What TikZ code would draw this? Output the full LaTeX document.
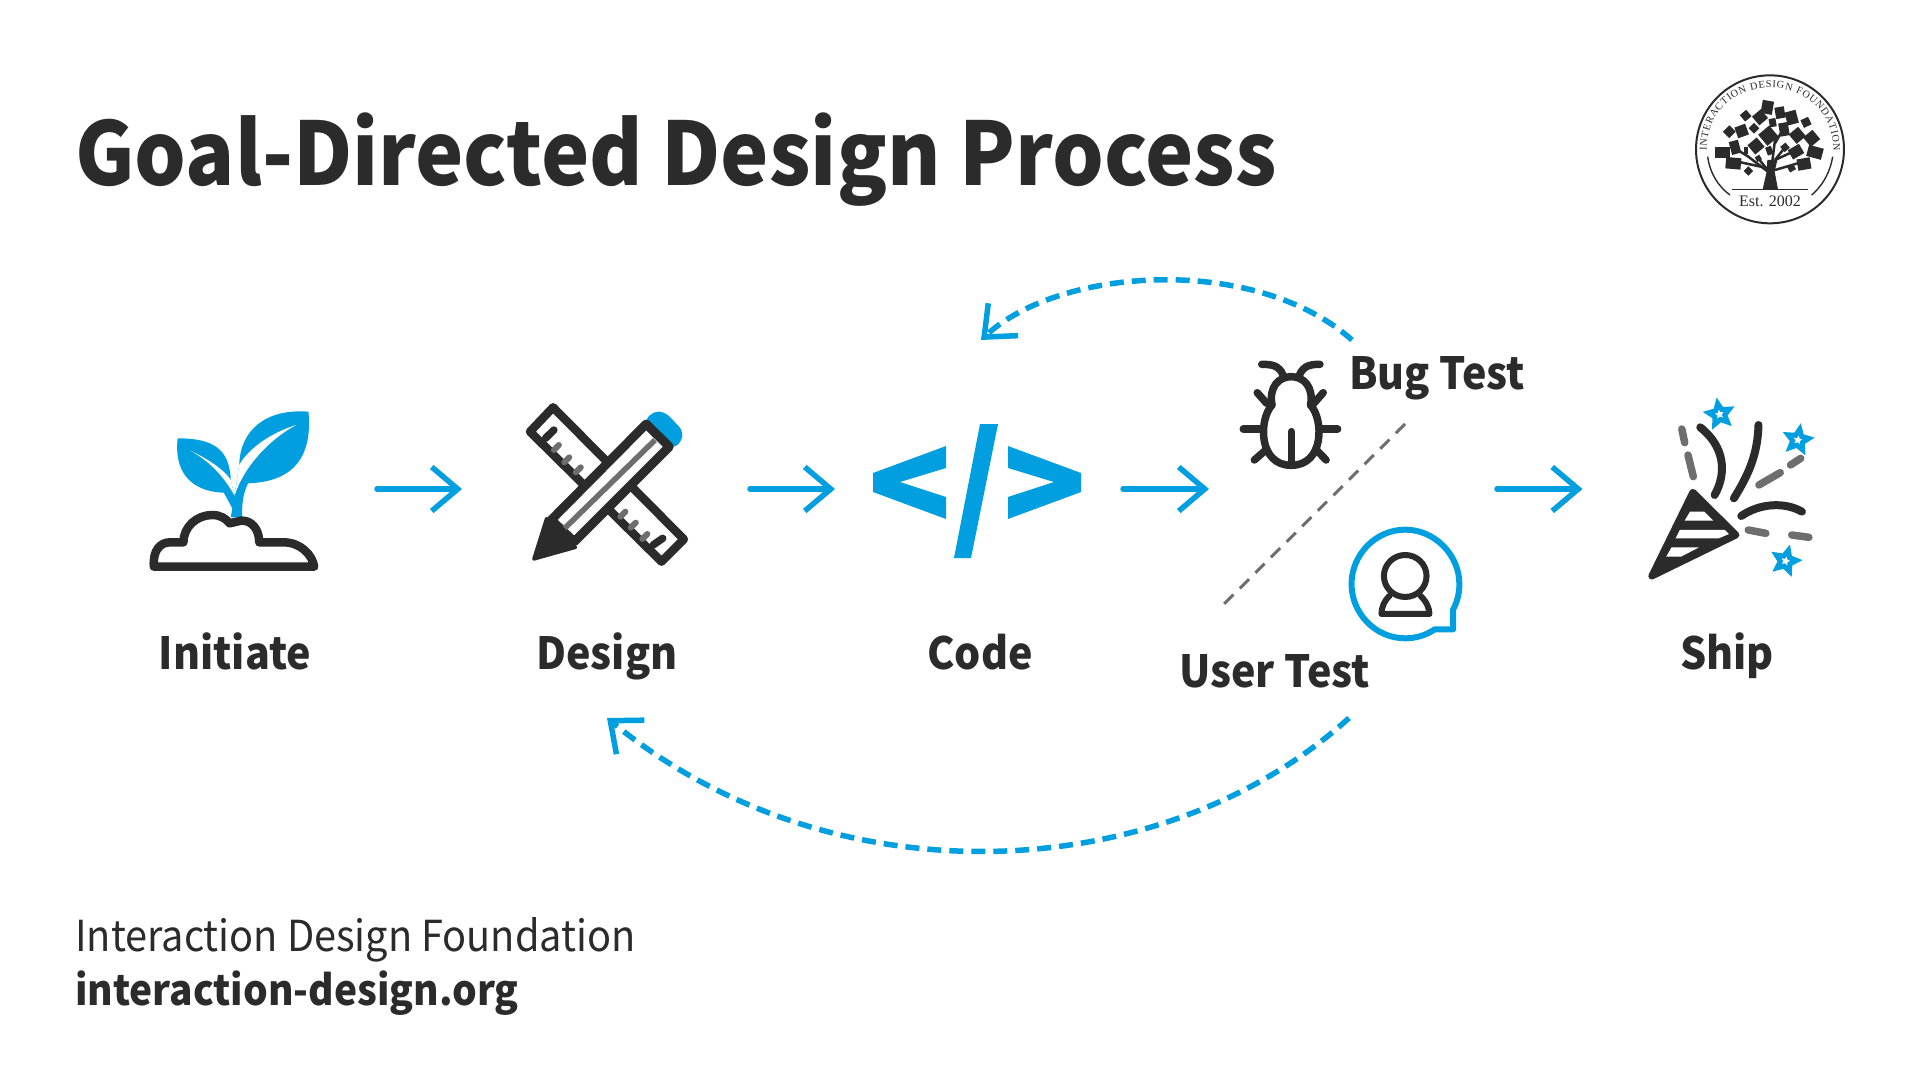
\documentclass[tikz,border=0pt]{standalone}
\usepackage{fontspec}
\setmainfont[FakeStretch=0.93]{Noto Sans CJK SC}
\newfontfamily\logofont{Liberation Serif}
\usetikzlibrary{arrows.meta,shapes.geometric,decorations.text}
\definecolor{idfblue}{HTML}{019FDF}
\definecolor{idfdark}{HTML}{2B2B2B}
\definecolor{idfgray}{HTML}{6E6E6E}
\tikzset{
    flow/.style={draw=idfblue,line width=5.5pt,line cap=round,-{Straight Barb[length=26pt,width=44pt]}},
    backflow/.style={draw=idfblue,line width=5.5pt,dash pattern=on 14pt off 8pt,-{Straight Barb[length=26pt,width=44pt]}},
    ink/.style={draw=idfdark,line width=7.5pt,line cap=round,line join=round},
    confetti/.style={draw=idfgray,line width=7.5pt,line cap=round},
    starmark/.style={star,star points=5,star point ratio=2.1,draw=idfblue,line width=5pt,minimum size=22pt,inner sep=0pt},
    steplabel/.style={anchor=base,font=\fontsize{44.3}{52}\selectfont\bfseries,text=idfdark,inner sep=0pt},
}
\begin{document}
\begin{tikzpicture}[x=1pt,y=-1pt]
    \useasboundingbox (0,0) rectangle (1920,1080);
    %% title and footer
    \node[anchor=base west,inner sep=0pt,font=\fontsize{87.5}{96}\selectfont\bfseries,text=idfdark] (title) at (75,185) {Goal-Directed Design Process};
    \node[anchor=base west,inner sep=0pt,font=\fontsize{42.7}{50}\selectfont,text=idfdark] (orgname) at (75,951) {Interaction Design Foundation};
    \node[anchor=base west,inner sep=0pt,font=\fontsize{41.8}{50}\selectfont\bfseries,text=idfdark] (orgsite) at (75,1005) {interaction-design.org};
    %% step labels
    \node[steplabel] (initiate) at (235,669) {Initiate};
    \node[steplabel] (design) at (607,669) {Design};
    \node[steplabel] (code) at (980,669) {Code};
    \node[steplabel] (ship) at (1727,669) {Ship};
    \node[steplabel,anchor=base west] (bugtest) at (1349,389) {Bug Test};
    \node[steplabel,anchor=base west] (usertest) at (1179,687) {User Test};
    %% arrow ends
    \coordinate (initiateout) at (377,489);
    \coordinate (designin) at (462,489);
    \coordinate (designout) at (750,489);
    \coordinate (codein) at (835,489);
    \coordinate (codeout) at (1123,489);
    \coordinate (testin) at (1209,489);
    \coordinate (testout) at (1497,489);
    \coordinate (shipin) at (1582.5,489);
    \coordinate (bugback) at (1352,340);
    \coordinate (designtop) at (981,340);
    \coordinate (userback) at (1349,718);
    \coordinate (designlow) at (607,718);
    \coordinate (splittop) at (1405,424);
    \coordinate (splitlow) at (1218,610);
    %% forward arrows
    \draw[flow] (initiateout) -- (designin);
    \draw[flow] (designout) -- (codein);
    \draw[flow] (codeout) -- (testin);
    \draw[flow] (testout) -- (shipin);
    %% dashed returns
    \draw[backflow] (bugback) .. controls (1255,254) and (1060,267) .. (designtop);
    \draw[backflow] (userback) .. controls (1165,885) and (835,905) .. (designlow);
    \draw[draw=idfgray,line width=3pt,dash pattern=on 13pt off 9pt] (splittop) -- (splitlow);
    %% sprout
    \begin{scope}[shift={(120,380)},x=0.3846pt,y=-0.3333pt]
        \fill[idfblue] (288,412) -- (292,385) -- (270,338) .. controls (180,335) and (140,270) .. (150,175)
            .. controls (240,175) and (285,205) .. (288,300) -- (298,347) -- (310,255)
            .. controls (312,150) and (380,85) .. (490,95) .. controls (500,220) and (460,305) .. (333,310)
            .. controls (320,340) and (316,375) .. (318,412) -- cycle;
        \fill[white] (183,212) .. controls (235,240) and (275,275) .. (288,300) -- (298,347) .. controls (270,290) and (235,245) .. (183,212) -- cycle;
        \fill[white] (458,135) .. controls (390,160) and (335,205) .. (310,255) -- (298,347) .. controls (320,265) and (385,180) .. (458,135) -- cycle;
        \filldraw[fill=white,draw=idfdark,line width=8.5pt,line join=round] (88,560) -- (505,560) .. controls (500,525) and (470,487) .. (425,487)
            -- (362,487) .. controls (362,445) and (340,420) .. (315,422) -- (285,430)
            .. controls (275,415) and (260,405) .. (240,405) .. controls (200,405) and (165,440) .. (165,487)
            -- (130,487) .. controls (105,487) and (85,510) .. (88,560) -- cycle;
    \end{scope}
    %% ruler and pencil
    \begin{scope}[shift={(118.5,380)},x=0.3846pt,y=-0.3333pt]
        \filldraw[fill=white,draw=idfdark,line width=8.5pt,line join=round] (1130,82) -- (1070,155) -- (1412,545) -- (1470,478) -- cycle;
        \draw[ink] (1132,150) -- (1110,175);
        \draw[ink] (1415,475) -- (1390,495);
        \foreach \tx/\ty in {1145/195,1172/232,1202/262,1318/395,1345/428,1375/462}
            \draw[confetti,line width=6pt] (\tx,\ty) -- (\tx-13,\ty+15);
        \fill[idfblue,rounded corners=5pt] (1368,118) -- (1398,92) -- (1425,100) -- (1466,150) -- (1466,180) -- (1444,206) -- cycle;
        \filldraw[fill=white,draw=idfdark,line width=9pt,line join=round] (1372,132) -- (1432,200) -- (1185,485) -- (1125,420) -- cycle;
        \draw[draw=idfgray,line width=5.5pt] (1395,180) -- (1160,445);
        \filldraw[fill=idfdark,draw=idfdark,line width=3.5pt,line join=round] (1113,416) -- (1188,502) -- (1080,537) -- cycle;
    \end{scope}
    %% code icon
    \fill[idfblue] (946,446) -- (873,473) -- (873,492) -- (946,519) -- (946,497) -- (900,482) -- (946,468) -- cycle;
    \fill[idfblue] (980,424) -- (998,424) -- (971,558) -- (954,558) -- cycle;
    \fill[idfblue] (1008,446) -- (1081,473) -- (1081,492) -- (1008,519) -- (1008,497) -- (1054,482) -- (1008,468) -- cycle;
    %% bug and user bubble
    \begin{scope}[shift={(1199,330)},x=0.41pt,y=-0.3333pt]
        \draw[ink] (178,225) .. controls (170,170) and (195,140) .. (225,140) .. controls (255,140) and (280,170) .. (272,225);
        \draw[ink] (178,225) .. controls (145,270) and (145,406) .. (225,406) .. controls (305,406) and (305,270) .. (272,225);
        \draw[ink] (225,305) -- (225,400);
        \draw[ink] (205,135) .. controls (195,105) and (175,103) .. (153,103);
        \draw[ink] (245,135) .. controls (255,105) and (275,103) .. (295,103);
        \draw[ink] (108,297) -- (155,297);
        \draw[ink] (295,297) -- (338,297);
        \draw[ink] (142,188) -- (165,220);
        \draw[ink] (303,188) -- (280,220);
        \draw[ink] (135,390) -- (165,358);
        \draw[ink] (310,390) -- (285,358);
        \draw[draw=idfblue,line width=6pt,line join=round] (575,898) .. controls (555,915) and (530,925) .. (503,925)
            .. controls (430,925) and (372,850) .. (372,762) .. controls (372,675) and (430,599) .. (503,599)
            .. controls (575,599) and (635,675) .. (635,762) .. controls (635,790) and (630,815) .. (620,838) -- (620,898) -- cycle;
        \draw[ink,line width=6pt] (503,738) ellipse [x radius=52,y radius=63];
        \draw[ink,line width=6pt] (465,797) .. controls (450,815) and (445,835) .. (445,852) -- (562,852) .. controls (562,835) and (555,815) .. (540,797);
    \end{scope}
    %% popper
    \begin{scope}[shift={(1198,330)},x=0.41pt,y=-0.3333pt]
        \filldraw[fill=idfdark,draw=idfdark,line width=7pt,line join=round] (1107,738) -- (1207,487) -- (1312,615) -- cycle;
        \fill[white] (1187,572) -- (1200,545) -- (1235,545) -- (1257,572) -- cycle;
        \fill[white] (1165,625) -- (1175,600) -- (1285,600) -- (1295,612) -- (1270,625) -- cycle;
        \fill[white] (1142,680) -- (1155,652) -- (1222,652) -- (1178,680) -- cycle;
        \draw[ink,line width=8pt] (1225,292) .. controls (1285,350) and (1290,430) .. (1260,495);
        \draw[ink,line width=8pt] (1367,285) .. controls (1365,370) and (1345,430) .. (1307,505);
        \draw[ink,line width=8pt] (1325,558) .. controls (1370,520) and (1430,515) .. (1473,545);
        \draw[confetti] (1180,297) -- (1187,338);
        \draw[confetti] (1195,375) -- (1208,440);
        \draw[confetti] (1368,465) -- (1420,428);
        \draw[confetti] (1445,405) -- (1470,385);
        \draw[confetti] (1342,600) -- (1385,610);
        \draw[confetti] (1448,615) -- (1490,622);
        \node[starmark,rotate=10] (stara) at (1272,253) {};
        \node[starmark,rotate=-10] (starb) at (1463,330) {};
        \node[starmark,rotate=-15] (starc) at (1433,693) {};
    \end{scope}
    %% logo
    \begin{scope}[shift={(1680,60)},x=0.3333pt,y=-0.3333pt]
        \draw[idfdark,line width=2pt] (270,268) circle [radius=222];
        \path[decorate,decoration={text along path,text align={fit to path},text={|\logofont\fontsize{10.3}{11}\selectfont\color{idfdark}|INTERACTION DESIGN FOUNDATION}}]
            (80,272) .. controls (80,20) and (460,20) .. (460,272);
        \draw[idfdark,line width=1.4pt] (83,290) .. controls (90,340) and (115,380) .. (150,405);
        \draw[idfdark,line width=1.4pt] (458,290) .. controls (450,340) and (425,380) .. (395,405);
        \draw[idfdark,line width=1.4pt] (155,388) -- (385,388);
        \node[inner sep=0pt,anchor=base,font=\logofont\fontsize{16}{18}\selectfont,text=idfdark] (est) at (270,441) {Est. 2002};
        \fill[idfdark] (248,388) -- (294,388) -- (284,335) -- (292,300) -- (262,300) -- (260,335) -- cycle;
        \draw[idfdark,line width=2.5pt] (270,340) -- (205,290) -- (165,265);
        \draw[idfdark,line width=2.5pt] (265,325) -- (150,300);
        \draw[idfdark,line width=2.5pt] (270,340) -- (235,295);
        \draw[idfdark,line width=2.5pt] (275,320) -- (285,240) -- (265,225);
        \draw[idfdark,line width=2.5pt] (285,300) -- (315,262);
        \draw[idfdark,line width=2.5pt] (285,330) -- (370,305);
        \draw[idfdark,line width=2.5pt] (285,300) -- (350,270);
        \draw[idfdark,line width=2.5pt] (285,250) -- (305,215);
        \foreach \lx/\ly/\lw/\lh/\lr in {128/277/38/28/0,165/262/25/35/15,160/310/40/30/-5,205/333/18/18/45,148/215/24/24/45,185/213/30/30/20,222/205/20/20/45,197/167/22/22/40,240/172/30/30/40,262/142/30/35/-10,300/158/25/30/10,335/173/30/35/15,378/187/22/22/25,278/188/18/22/10,312/208/25/35/10,352/226/32/32/40,395/235/32/32/40,265/227/38/38/40,228/258/32/32/40,198/272/12/18/0,268/272/16/22/20,315/262/18/18/40,348/275/34/28/30,405/277/40/30/-15,372/312/35/30/10,335/325/18/15/30,235/295/14/14/30}
            \fill[idfdark,shift={(\lx,\ly)},rotate=\lr] (-\lw*0.57,-\lh*0.57) rectangle (\lw*0.57,\lh*0.57);
    \end{scope}
\end{tikzpicture}
\end{document}
